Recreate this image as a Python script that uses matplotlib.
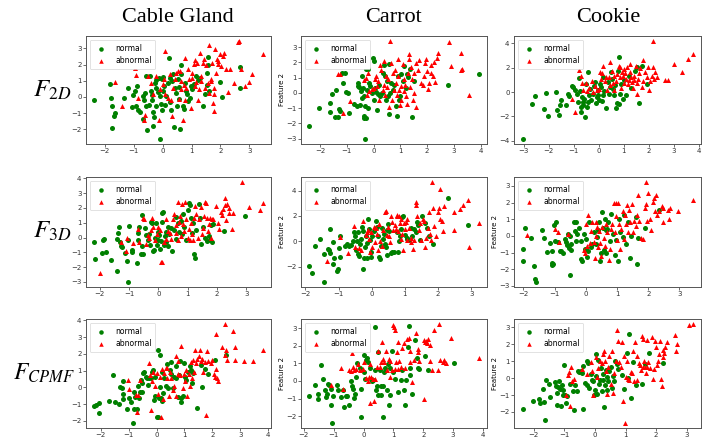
import matplotlib
matplotlib.use("Agg")
import matplotlib.pyplot as plt
from matplotlib.ticker import MultipleLocator
import numpy as np

columns = ["Cable Gland", "Carrot", "Cookie"]
row_labels = [r"$F_{2D}$", r"$F_{3D}$", r"$F_{CPMF}$"]
class_labels = ["normal", "abnormal"]

# ---------------- Cable Gland, F2D ----------------
cable_f2d_normal = [(-2.36,-0.17),(-1.81,0.81),(-1.80,-0.10),(-1.74,-0.54),(-1.67,-1.16),(-1.65,-1.0),(-1.74,-1.95),
 (-1.35,-0.06),(-1.20,0.52),(-1.06,-0.62),(-1.01,0.1),(-0.95,0.39),(-0.87,0.7),(-0.92,-0.54),(-0.86,-0.79),(-0.79,-0.95),
 (-0.68,0.04),(-0.64,-0.21),(-0.61,0.27),(-0.58,1.31),(-0.57,-0.58),(-0.55,-2.07),(-0.69,-1.37),(-0.34,-1.82),(-0.47,-0.52),
 (-0.45,1.27),(-0.40,0.39),(-0.38,0.12),(-0.36,-0.17),(-0.34,-0.91),(-0.29,-1.24),(-0.26,0.87),(-0.24,1.04),(-0.22,0.56),
 (-0.23,-0.58),(-0.17,0.29),(-0.13,1.18),(-0.10,-2.61),(-0.08,0.04),(-0.06,-0.41),(-0.03,-0.79),(-0.01,1.08),(0.01,1.24),
 (0.03,0.35),(0.06,0.66),(0.08,-0.48),(0.13,0.08),(0.17,0.83),(0.23,2.39),(0.24,1.18),(0.26,-0.29),(0.29,-0.79),(0.33,0.98),
 (0.37,1.43),(0.40,-1.87),(0.42,0.56),(0.45,0.21),(0.49,-0.54),(0.54,1.08),(0.56,0.62),(0.58,-0.12),(0.61,-1.99),(0.62,1.99),
 (0.65,1.43),(0.71,-0.58),(0.74,-0.75),(0.77,0.87),(0.80,0.35),(0.84,0.15),(0.88,-0.23),(0.94,-0.06),(0.97,0.66),(1.02,0.5),
 (1.07,0.77),(1.16,1.29),(1.23,1.04),(1.28,1.18),(1.40,-0.58),(1.48,0.15),(1.52,0.71),(1.54,1.49),(1.57,2.49),(1.59,0.35),
 (1.57,1.95),(1.97,0.93),(2.05,-0.02),(2.68,1.87),(2.68,0.52)]
cable_f2d_abnormal = [(-1.64,0.93),(-1.39,-0.54),(-0.97,1.76),(-0.93,1.35),(-0.86,-0.10),(-0.66,-1.45),(-0.61,-1.1),(-0.49,1.29),
 (-0.40,0.83),(-0.32,0.15),(-0.24,1.29),(-0.11,-1.41),(-0.08,0.46),(0.0,0.77),(0.06,1.08),(0.10,2.86),(0.10,0.15),(0.17,-0.06),
 (0.25,1.39),(0.29,-0.21),(0.31,-1.16),(0.37,0.56),(0.42,1.08),(0.48,1.49),(0.54,1.6),(0.56,-0.12),(0.60,1.6),(0.63,0.46),
 (0.65,0.98),(0.69,-1.41),(0.74,0.71),(0.77,2.43),(0.79,-0.17),(0.82,0.56),(0.88,1.7),(0.91,1.08),(0.97,-0.68),(1.0,1.49),
 (1.03,1.18),(1.09,2.01),(1.11,0.66),(1.13,2.28),(1.14,0.91),(1.20,2.12),(1.23,-0.17),(1.25,0.46),(1.28,2.70),(1.32,0.98),
 (1.34,1.29),(1.40,2.12),(1.43,2.32),(1.45,0.56),(1.51,1.95),(1.57,0.87),(1.62,3.22),(1.66,1.12),(1.68,0.98),(1.70,2.12),
 (1.73,-0.37),(1.77,-0.89),(1.79,0.56),(1.81,2.99),(1.85,1.49),(1.89,2.37),(1.91,2.01),(1.93,2.2),(2.0,2.63),(2.03,1.91),
 (2.08,2.53),(2.12,2.70),(2.20,1.74),(2.28,0.31),(2.34,1.74),(2.46,0.87),(2.62,3.42),(2.64,3.46),(2.71,1.74),(2.85,0.66),
 (3.0,0.93),(3.09,1.43),(3.46,2.63),(1.77,0.15),(1.62,0.25)]

# ---------------- Carrot, F2D ----------------
carrot_f2d_normal = [(-2.40,-2.15),(-2.05,-0.99),(-1.62,-0.66),(-1.62,-1.27),(-1.57,-0.07),(-1.44,-1.58),(-1.41,0.22),(-1.32,-1.58),
 (-1.28,-1.05),(-1.24,-1.21),(-1.16,0.62),(-1.19,1.32),(-1.07,1.32),(-1.03,0.04),(-0.97,0.0),(-0.91,-1.32),(-0.75,-0.70),
 (-0.66,1.80),(-0.62,-0.88),(-0.60,0.44),(-0.57,0.66),(-0.53,0.40),(-0.51,-0.77),(-0.47,0.11),(-0.45,1.1),(-0.42,-0.33),
 (-0.40,0.33),(-0.37,-1.54),(-0.37,-0.18),(-0.35,-1.65),(-0.32,-3.03),(-0.31,-0.84),(-0.29,1.58),(-0.27,-1.65),(-0.25,0.22),
 (-0.22,-0.99),(-0.20,1.58),(-0.16,0.66),(-0.12,0.44),(-0.07,0.0),(-0.04,2.31),(0.0,-0.48),(0.02,2.09),(0.05,0.33),(0.09,0.04),
 (0.12,-1.10),(0.17,-0.04),(0.21,0.55),(0.25,-0.22),(0.30,0.0),(0.34,1.32),(0.37,1.80),(0.42,1.1),(0.45,-0.44),(0.50,0.77),
 (0.52,-0.22),(0.56,-1.36),(0.58,1.87),(0.62,0.0),(0.65,0.62),(0.71,0.22),(0.77,0.55),(0.83,-0.88),(0.87,-1.49),(0.92,1.1),
 (0.96,-0.48),(1.0,-0.18),(1.04,1.21),(1.09,0.77),(1.14,1.76),(1.19,0.33),(1.24,1.21),(1.29,1.05),(1.37,1.58),(1.42,-1.58),
 (1.49,0.77),(2.76,0.55),(3.92,1.25)]
carrot_f2d_abnormal = [(-1.32,1.25),(-1.24,1.21),(-1.16,-1.32),(-0.87,-0.55),(-0.35,0.84),(-0.29,0.99),(-0.25,-0.11),(-0.20,1.32),
 (-0.16,0.11),(-0.07,0.26),(0.0,0.33),(0.05,0.88),(0.09,1.10),(0.12,0.48),(0.17,0.77),(0.21,-0.44),(0.25,1.80),(0.27,1.49),
 (0.34,0.22),(0.37,2.09),(0.40,0.55),(0.42,-0.11),(0.46,1.10),(0.50,0.40),(0.55,0.88),(0.58,-0.92),(0.62,3.41),(0.65,1.98),
 (0.67,-0.44),(0.71,1.32),(0.75,0.22),(0.80,1.49),(0.83,0.66),(0.87,-0.11),(0.90,1.14),(0.92,2.24),(0.96,0.22),(1.0,-0.77),
 (1.02,0.48),(1.04,-0.48),(1.08,1.91),(1.12,0.88),(1.14,0.11),(1.17,0.55),(1.21,-0.22),(1.24,-0.70),(1.27,1.32),(1.33,2.53),
 (1.33,2.20),(1.37,0.40),(1.39,1.71),(1.42,0.88),(1.46,-0.44),(1.52,1.32),(1.57,-0.92),(1.59,1.98),(1.64,1.49),(1.70,2.13),
 (1.77,0.66),(1.83,0.55),(1.87,1.10),(1.92,1.98),(1.97,2.24),(2.01,1.43),(2.04,0.26),(2.07,0.66),(2.14,1.80),(2.16,1.32),
 (2.20,1.10),(2.24,2.02),(2.29,0.70),(2.36,2.31),(2.41,2.60),(2.82,3.34),(2.89,1.76),(3.27,2.64),(3.30,1.58),(3.28,1.49),
 (3.57,-0.11),(1.52,0.0)]

# ---------------- Cookie, F2D ----------------
cookie_f2d_normal = [(-3.04,-3.85),(-2.68,-0.94),(-2.54,-0.32),(-2.17,-1.35),(-2.12,-0.08),(-2.04,-1.97),(-1.72,0.03),(-1.65,-1.43),
 (-1.60,-1.89),(-1.54,-1.08),(-1.50,-0.67),(-1.31,-1.08),(-1.24,-0.13),(-1.19,-0.30),(-1.08,0.46),(-1.01,0.40),(-0.95,0.13),
 (-0.85,-0.13),(-0.81,-0.81),(-0.77,1.16),(-0.75,0.08),(-0.72,-1.21),(-0.71,-1.62),(-0.68,-0.40),(-0.64,-1.08),(-0.61,-0.81),
 (-0.59,-0.54),(-0.55,-2.08),(-0.51,0.67),(-0.45,-1.21),(-0.41,1.62),(-0.41,-0.81),(-0.37,-0.27),(-0.35,0.27),(-0.32,-0.67),
 (-0.24,-0.13),(-0.19,0.46),(-0.15,0.81),(-0.11,-0.89),(-0.08,-0.40),(-0.04,0.13),(-0.01,-0.27),(0.03,-0.62),(0.05,0.67),
 (0.09,0.40),(0.12,-0.75),(0.16,1.21),(0.19,-0.27),(0.21,0.08),(0.29,-1.27),(0.35,0.81),(0.39,-0.19),(0.45,0.40),(0.48,1.62),
 (0.52,1.08),(0.56,0.27),(0.59,-0.27),(0.65,0.54),(0.69,-1.29),(0.72,-0.89),(0.75,1.75),(0.79,-1.0),(0.80,2.88),(0.85,-0.13),
 (0.88,0.67),(0.96,-0.54),(1.01,1.0),(1.09,-0.27),(1.19,1.35),(1.28,0.35),(1.45,1.70),(1.54,2.02),(1.62,-0.89),(1.72,2.16),
 (1.94,0.62)]
cookie_f2d_abnormal = [(-1.08,-0.57),(-0.95,-1.62),(-0.80,1.83),(-0.69,1.35),(-0.66,0.73),(-0.61,0.13),(-0.52,0.73),(-0.45,0.08),
 (-0.37,0.35),(-0.28,0.94),(-0.21,0.0),(-0.15,0.46),(-0.08,0.13),(0.0,0.27),(0.05,1.62),(0.08,1.08),(0.13,1.54),(0.19,2.16),
 (0.25,0.94),(0.29,1.21),(0.32,0.19),(0.39,1.21),(0.43,0.54),(0.45,2.43),(0.52,1.70),(0.56,0.73),(0.59,0.13),(0.61,1.35),
 (0.67,0.94),(0.72,1.48),(0.79,2.16),(0.83,1.21),(0.85,2.08),(0.88,0.35),(0.92,1.62),(0.96,1.35),(0.99,1.89),(1.01,0.73),
 (1.05,1.54),(1.09,1.08),(1.12,2.02),(1.15,0.67),(1.19,1.0),(1.23,1.62),(1.25,2.29),(1.28,1.21),(1.32,0.81),(1.36,0.35),
 (1.39,1.35),(1.42,1.0),(1.49,2.16),(1.52,0.73),(1.54,-0.13),(1.58,1.08),(1.62,1.54),(1.65,1.97),(1.72,0.40),(1.76,2.61),
 (1.78,0.94),(1.85,1.62),(1.92,1.21),(1.98,2.02),(2.02,0.19),(2.05,0.94),(2.12,1.35),(2.16,4.18),(2.18,2.08),(2.21,1.08),
 (2.26,1.62),(2.32,1.21),(2.65,1.0),(2.78,1.0),(3.01,2.29),(3.33,1.62),(3.58,2.69),(3.74,3.10)]

# ---------------- Cable Gland, F3D ----------------
cable_f3d_normal = [(-2.18,-0.27),(-2.15,-1.42),(-1.87,-0.14),(-1.84,-0.07),(-1.92,-1.05),(-1.78,-1.0),(-1.61,-1.51),(-1.41,-0.09),
 (-1.41,-2.24),(-1.36,0.32),(-1.33,0.73),(-1.30,-0.32),(-1.27,-0.55),(-1.24,-0.64),(-1.13,-1.05),(-1.07,-1.56),(-1.05,-3.0),
 (-1.02,-0.18),(-1.0,0.78),(-0.90,-0.82),(-0.88,-0.96),(-0.74,-1.69),(-0.70,0.32),(-0.68,-0.14),(-0.66,0.73),(-0.59,-1.10),
 (-0.57,-0.55),(-0.54,1.51),(-0.51,-1.14),(-0.45,0.66),(-0.43,0.18),(-0.36,-0.14),(-0.32,0.27),(-0.28,-0.48),(-0.25,1.05),
 (-0.20,1.0),(-0.17,-0.94),(-0.14,-0.82),(-0.11,-0.02),(-0.09,1.0),(-0.06,-0.48),(-0.02,0.37),(0.0,-0.18),(0.03,0.18),
 (0.06,-0.78),(0.09,-0.25),(0.11,1.69),(0.14,1.05),(0.17,1.74),(0.20,-0.48),(0.23,0.09),(0.25,0.37),(0.28,-0.32),(0.32,0.73),
 (0.34,-0.55),(0.36,0.21),(0.43,0.66),(0.48,-0.94),(0.54,0.50),(0.59,1.42),(0.62,-0.09),(0.66,0.96),(0.70,0.37),(0.77,1.12),
 (0.81,0.21),(0.85,1.58),(0.88,0.73),(0.96,-0.14),(1.0,1.88),(1.04,2.31),(1.07,2.20),(1.11,1.35),(1.15,0.32),(1.19,1.0),
 (1.22,-1.10),(1.24,-1.40),(1.30,0.50),(1.38,2.27),(1.41,1.35),(1.45,-0.41),(1.53,0.73),(1.61,-0.02),(1.67,-0.25),(1.72,0.09),
 (1.75,-0.14),(1.81,0.82),(1.83,-0.32),(1.87,0.89),(2.24,0.43),(2.96,1.46)]
cable_f3d_abnormal = [(-1.98,-2.38),(-1.27,-0.32),(-1.11,-0.94),(-1.07,-0.02),(-0.85,-0.37),(-0.68,0.55),(-0.66,-0.32),(-0.51,1.35),
 (-0.48,1.24),(-0.43,-0.41),(-0.36,0.18),(-0.32,-0.02),(-0.25,0.50),(-0.20,1.35),(-0.17,0.73),(-0.11,-0.14),(-0.06,0.27),
 (0.0,0.73),(0.06,0.50),(0.09,-1.62),(0.14,-1.62),(0.18,-0.32),(0.25,-0.09),(0.28,1.28),(0.34,0.43),(0.40,0.32),(0.45,-0.09),
 (0.51,1.28),(0.54,1.58),(0.59,0.32),(0.62,0.82),(0.66,2.43),(0.68,-0.18),(0.70,1.05),(0.74,1.46),(0.77,0.09),(0.81,2.27),
 (0.85,0.89),(0.88,0.43),(0.90,2.43),(0.96,1.24),(1.0,-0.02),(1.04,0.59),(1.07,-0.14),(1.11,1.0),(1.15,0.27),(1.19,-0.14),
 (1.22,1.35),(1.27,2.11),(1.30,1.58),(1.36,-0.02),(1.40,1.28),(1.45,2.04),(1.49,0.21),(1.53,0.66),(1.56,1.46),(1.61,2.43),
 (1.64,2.31),(1.67,1.35),(1.70,0.43),(1.72,0.89),(1.75,1.35),(1.79,-0.02),(1.83,1.24),(1.87,1.28),(1.98,2.11),(2.04,0.96),
 (2.06,0.55),(2.13,1.74),(2.17,1.51),(2.21,1.92),(2.26,2.65),(2.28,2.20),(2.32,1.19),(2.35,2.27),(2.40,1.97),(2.43,1.65),
 (2.51,0.55),(2.55,1.65),(2.85,3.75),(3.08,2.04),(3.48,1.88),(3.56,2.33)]

# ---------------- Carrot, F3D ----------------
carrot_f3d_normal = [(-1.88,-1.92),(-1.81,-2.53),(-1.71,-0.40),(-1.55,0.21),(-1.45,-3.2),(-1.43,-0.99),(-1.33,-0.61),(-1.28,-0.72),
 (-1.26,1.01),(-1.25,-0.88),(-1.18,-0.08),(-1.18,-1.79),(-1.13,-1.33),(-1.05,-2.32),(-1.01,-2.21),(-0.98,-0.53),(-0.95,0.4),
 (-0.95,-1.25),(-0.81,-0.35),(-0.75,-0.19),(-0.68,-0.40),(-0.63,-0.27),(-0.58,0.0),(-0.55,0.72),(-0.51,0.40),(-0.48,-0.67),
 (-0.45,0.0),(-0.43,0.72),(-0.41,-0.99),(-0.38,-1.15),(-0.35,-0.19),(-0.33,0.19),(-0.31,1.15),(-0.28,0.85),(-0.26,-2.21),
 (-0.23,-1.33),(-0.21,-0.45),(-0.18,0.45),(-0.15,-1.33),(-0.13,-0.13),(-0.11,1.79),(-0.08,0.99),(-0.05,0.08),(-0.03,-0.80),
 (-0.01,-1.25),(0.02,0.40),(0.07,0.80),(0.12,1.60),(0.17,1.15),(0.19,0.45),(0.22,-1.25),(0.25,-1.41),(0.29,-0.35),(0.32,1.07),
 (0.35,0.19),(0.37,0.61),(0.39,-0.19),(0.42,-0.45),(0.45,-1.07),(0.47,0.93),(0.49,1.33),(0.52,0.80),(0.57,-0.88),(0.62,-0.80),
 (0.67,-0.80),(0.75,0.72),(0.79,-0.80),(0.82,0.0),(0.85,0.45),(0.89,0.99),(0.92,1.95),(0.95,2.0),(0.99,0.53),(1.05,0.27),
 (1.07,0.19),(1.12,0.13),(1.17,1.07),(1.22,0.40),(1.27,0.99),(1.32,0.72),(1.35,1.52),(1.39,1.25),(1.45,0.08),(1.52,2.0),
 (1.59,1.41),(1.67,1.07),(1.72,0.45),(1.85,-0.19),(2.29,3.39),(2.89,1.25)]
carrot_f3d_abnormal = [(-1.36,-1.52),(-0.95,0.35),(-0.71,-0.88),(-0.53,1.20),(-0.51,-0.45),(-0.38,-0.53),(-0.33,-0.72),(-0.25,1.60),
 (-0.18,0.53),(-0.15,0.72),(-0.11,0.93),(-0.08,0.19),(-0.05,-0.80),(-0.01,0.72),(0.02,-0.45),(0.07,1.15),(0.10,-0.08),
 (0.12,1.07),(0.17,0.61),(0.20,-0.72),(0.22,1.33),(0.25,0.0),(0.30,-0.35),(0.35,0.93),(0.39,2.27),(0.42,2.40),(0.45,0.53),
 (0.49,1.15),(0.52,0.40),(0.55,-0.08),(0.59,2.0),(0.62,1.52),(0.65,0.93),(0.69,1.25),(0.72,0.99),(0.75,2.0),(0.77,2.05),
 (0.79,0.80),(0.82,2.0),(0.85,1.41),(0.87,0.19),(0.89,1.79),(0.92,0.61),(0.95,-0.67),(0.97,1.41),(0.99,0.99),(1.02,1.52),
 (1.05,0.13),(1.07,1.73),(1.12,1.07),(1.17,-0.08),(1.19,0.27),(1.25,-0.61),(1.27,0.13),(1.32,3.07),(1.34,2.85),(1.37,2.0),
 (1.42,0.88),(1.45,1.41),(1.49,0.13),(1.55,1.79),(1.57,1.60),(1.60,-0.45),(1.65,0.27),(1.69,1.07),(1.72,2.27),(1.75,0.61),
 (1.79,0.13),(1.82,4.67),(1.85,2.59),(1.89,1.20),(1.95,0.40),(1.99,2.27),(2.02,2.59),(2.05,4.08),(2.07,1.73),(2.12,1.60),
 (2.15,0.80),(2.19,2.80),(2.47,2.32),(2.47,0.88),(2.65,2.53),(2.75,2.85),(2.89,3.28),(2.92,-0.45),(3.22,1.41)]

# ---------------- Cookie, F3D ----------------
cookie_f3d_normal = [(-2.03,-0.76),(-2.01,-1.50),(-1.96,0.47),(-1.77,-0.10),(-1.66,-1.81),(-1.63,-2.57),(-1.60,-2.77),(-1.42,0.35),
 (-1.35,-0.14),(-1.26,-0.94),(-1.15,-0.45),(-1.10,-1.75),(-1.07,-0.92),(-1.07,-1.64),(-1.05,-1.68),(-1.03,0.66),(-1.0,-0.31),
 (-0.96,0.82),(-0.89,-0.37),(-0.83,-0.92),(-0.78,-0.92),(-0.73,-1.03),(-0.67,-0.21),(-0.64,-0.37),(-0.60,-0.57),(-0.57,0.10),
 (-0.53,-0.72),(-0.51,0.0),(-0.51,-2.36),(-0.49,-0.51),(-0.46,-0.86),(-0.38,0.82),(-0.35,0.31),(-0.32,-0.31),(-0.30,0.86),
 (-0.28,0.10),(-0.21,0.45),(-0.17,-1.40),(-0.14,-0.31),(-0.11,-1.48),(-0.06,0.10),(-0.03,-0.78),(0.0,-0.21),(0.04,-1.27),
 (0.07,-0.92),(0.11,0.86),(0.15,-0.66),(0.21,-0.51),(0.26,0.21),(0.32,-0.51),(0.36,-0.04),(0.40,0.37),(0.43,0.86),(0.45,-1.48),
 (0.50,-1.03),(0.53,1.44),(0.56,0.45),(0.58,-0.82),(0.61,1.04),(0.64,-1.03),(0.66,0.37),(0.68,0.41),(0.72,0.82),(0.77,-0.31),
 (0.82,1.33),(0.88,0.10),(0.93,-1.13),(0.98,-0.25),(1.04,-1.48),(1.07,1.03),(1.11,0.25),(1.18,-0.04),(1.22,1.23),(1.28,-0.51),
 (1.36,0.86),(1.43,-1.33),(1.46,0.0),(1.60,1.13),(1.65,-1.68),(1.68,-0.10),(1.89,0.45),(2.35,1.54)]
cookie_f3d_abnormal = [(-1.90,0.04),(-1.0,0.41),(-0.89,0.25),(-0.85,-0.37),(-0.57,0.14),(-0.06,-0.82),(-0.03,-1.03),(0.0,0.72),
 (0.04,-0.62),(0.07,1.23),(0.13,-0.41),(0.18,0.31),(0.21,0.86),(0.26,-0.37),(0.29,-1.33),(0.32,0.86),(0.34,0.0),(0.36,0.51),
 (0.40,-0.66),(0.43,0.31),(0.47,-0.41),(0.50,-1.19),(0.53,0.51),(0.58,-0.10),(0.61,-0.62),(0.66,0.72),(0.68,0.21),(0.75,-1.44),
 (0.77,-0.78),(0.82,0.41),(0.85,0.72),(0.90,1.99),(0.93,0.21),(0.96,1.99),(0.98,1.17),(1.0,-0.25),(1.04,1.95),(1.07,0.72),
 (1.09,-0.78),(1.14,0.41),(1.18,1.48),(1.22,-0.16),(1.25,1.23),(1.28,0.72),(1.32,1.85),(1.36,0.25),(1.39,1.54),(1.43,0.82),
 (1.47,1.89),(1.50,0.25),(1.54,0.92),(1.60,0.62),(1.65,1.27),(1.68,2.46),(1.71,0.92),(1.78,-0.10),(1.84,-0.21),(1.89,1.68),
 (1.92,1.89),(1.94,3.24),(1.97,0.92),(2.0,2.59),(2.05,1.03),(2.10,0.35),(2.14,2.05),(2.18,2.30),(2.21,1.48),(2.24,2.46),
 (2.29,1.23),(2.35,1.48),(2.43,1.81),(2.46,0.86),(2.48,1.68),(2.64,1.54),(2.67,1.03),(2.69,1.68),(2.96,1.48),(3.42,2.16)]

# ---------------- Cable Gland, F_CPMF ----------------
cable_cpmf_normal = [(-2.23,-1.12),(-2.17,-1.06),(-2.08,-0.92),(-2.05,-1.51),(-1.72,-0.82),(-1.58,0.74),(-1.48,-0.90),(-1.34,-1.02),
 (-1.31,0.04),(-1.25,-0.02),(-1.22,0.38),(-1.19,-0.70),(-1.22,-0.42),(-1.07,-1.27),(-0.99,-0.62),(-0.91,-0.90),(-0.83,-2.13),
 (-0.80,-1.27),(-0.80,-0.26),(-0.77,-0.56),(-0.71,-1.27),(-0.68,0.10),(-0.63,-0.62),(-0.59,-0.26),(-0.56,0.44),(-0.53,-0.30),
 (-0.51,0.24),(-0.48,0.84),(-0.44,0.94),(-0.39,0.64),(-0.36,0.54),(-0.32,0.14),(-0.27,0.58),(-0.20,0.54),(-0.15,0.94),
 (-0.12,1.04),(-0.08,-0.76),(-0.06,-0.50),(-0.04,0.64),(0.0,-1.77),(0.04,2.25),(0.06,-1.77),(0.08,-0.62),(0.12,1.91),(0.13,0.04),
 (0.15,-0.62),(0.18,0.94),(0.20,-0.82),(0.24,-0.36),(0.27,0.54),(0.32,0.10),(0.36,1.39),(0.42,-0.06),(0.48,1.04),(0.51,1.51),
 (0.53,0.78),(0.59,-0.02),(0.63,0.64),(0.68,1.25),(0.71,0.54),(0.77,-0.56),(0.80,0.74),(0.83,1.59),(0.87,-0.86),(0.89,-0.66),
 (0.95,-0.50),(0.99,1.45),(1.03,0.64),(1.07,0.44),(1.13,0.94),(1.19,1.25),(1.25,1.04),(1.27,0.24),(1.31,0.84),(1.46,-1.22),
 (1.58,1.35),(1.63,0.04),(1.75,1.10),(1.86,0.78),(2.10,1.65),(2.49,1.95)]
cable_cpmf_abnormal = [(-1.01,0.44),(-0.99,-0.10),(-0.75,-0.46),(-0.68,-0.46),(-0.71,-1.47),(-0.59,0.44),(-0.48,2.65),(-0.27,1.45),
 (-0.24,0.74),(-0.20,-1.37),(-0.15,0.38),(-0.12,0.94),(-0.06,0.10),(0.0,0.84),(0.06,-0.42),(0.12,0.64),(0.15,-1.77),(0.18,1.10),
 (0.24,-0.70),(0.27,0.84),(0.32,1.18),(0.36,1.14),(0.39,0.54),(0.44,-0.50),(0.48,0.90),(0.53,0.58),(0.59,-0.16),(0.63,0.10),
 (0.68,1.85),(0.71,-0.50),(0.75,0.78),(0.77,1.55),(0.83,0.74),(0.89,2.45),(0.95,-0.06),(0.99,0.78),(1.03,0.38),(1.07,1.04),
 (1.10,-0.50),(1.15,0.78),(1.19,0.10),(1.25,1.51),(1.27,0.54),(1.31,1.65),(1.34,0.94),(1.39,2.25),(1.43,1.45),(1.46,1.71),
 (1.51,1.85),(1.54,2.25),(1.58,1.59),(1.63,1.71),(1.66,0.94),(1.72,1.51),(1.76,-1.67),(1.82,2.19),(1.86,1.59),(1.94,1.45),
 (1.98,1.65),(2.05,0.78),(2.08,0.64),(2.14,1.10),(2.14,3.19),(2.16,0.54),(2.20,0.38),(2.35,2.39),(2.44,1.91),(2.44,3.79),
 (2.49,2.25),(2.52,1.65),(2.73,3.39),(2.82,2.39),(2.82,1.65),(3.15,1.59),(3.44,1.55),(3.80,2.25)]

# ---------------- Carrot, F_CPMF ----------------
carrot_cpmf_normal = [(-1.81,-0.86),(-1.61,-0.21),(-1.53,-0.73),(-1.51,-1.01),(-1.42,0.90),(-1.36,0.10),(-1.30,-0.50),(-1.27,-0.92),
 (-1.22,-0.73),(-1.19,-0.15),(-1.14,-0.21),(-1.10,-1.35),(-1.08,-0.48),(-1.06,-2.39),(-1.03,-0.86),(-0.88,-0.21),(-0.84,-0.53),
 (-0.77,-0.92),(-0.69,-0.53),(-0.64,-1.49),(-0.58,-0.86),(-0.55,-0.86),(-0.49,-1.35),(-0.41,-0.02),(-0.39,-0.29),(-0.36,-0.44),
 (-0.32,-0.97),(-0.28,-0.73),(-0.25,0.23),(-0.21,0.99),(-0.17,1.89),(-0.13,0.74),(-0.10,-2.06),(-0.08,-0.44),(0.01,0.48),
 (0.03,1.47),(0.06,0.13),(0.09,1.18),(0.12,1.32),(0.14,1.05),(0.20,0.71),(0.26,0.10),(0.28,-0.02),(0.31,0.04),(0.37,0.61),
 (0.40,3.03),(0.42,-0.53),(0.46,-0.29),(0.48,-0.78),(0.50,1.62),(0.54,0.61),(0.57,-0.78),(0.59,-0.29),(0.65,-2.06),(0.65,-0.29),
 (0.70,0.52),(0.72,0.74),(0.79,-0.53),(0.81,0.94),(0.84,-1.39),(0.87,-0.82),(0.90,0.71),(0.95,1.70),(0.98,0.52),(1.06,0.13),
 (1.15,-0.63),(1.24,0.04),(1.28,0.61),(1.35,-0.53),(1.39,-1.39),(1.43,0.04),(1.48,1.95),(1.53,3.09),(1.55,0.36),(1.57,0.71),
 (1.62,-0.73),(1.71,2.33),(1.79,1.32),(1.84,0.71),(1.87,0.67),(2.06,1.43),(2.15,0.61),(3.02,0.99)]
carrot_cpmf_abnormal = [(-1.10,-0.21),(-0.75,0.71),(-0.69,-0.48),(-0.47,0.61),(-0.41,0.55),(-0.39,1.56),(-0.36,0.80),(-0.32,0.61),
 (-0.25,0.67),(-0.17,0.94),(-0.13,0.61),(-0.10,2.27),(-0.08,3.03),(-0.02,0.67),(0.01,1.09),(0.09,0.17),(0.14,-0.02),(0.17,0.23),
 (0.20,-1.24),(0.23,0.94),(0.26,0.23),(0.31,0.13),(0.35,-1.16),(0.39,0.10),(0.46,0.80),(0.48,1.70),(0.54,0.80),(0.57,1.05),
 (0.61,2.23),(0.65,1.24),(0.70,1.05),(0.76,1.70),(0.79,0.61),(0.84,1.24),(0.87,1.13),(0.90,0.23),(0.95,0.61),(0.98,3.15),
 (1.01,3.03),(1.04,0.67),(1.06,2.90),(1.09,1.09),(1.13,1.62),(1.15,0.67),(1.17,2.23),(1.20,1.13),(1.24,0.80),(1.28,1.89),
 (1.35,2.14),(1.39,0.71),(1.46,2.39),(1.51,2.46),(1.54,1.70),(1.57,1.09),(1.62,-0.06),(1.69,1.18),(1.76,2.71),(1.82,1.81),
 (1.84,1.66),(1.87,1.13),(2.02,2.33),(2.04,-1.05),(2.06,2.19),(2.10,2.27),(2.13,2.14),(2.15,2.39),(2.21,2.04),(2.24,1.13),
 (2.28,0.61),(2.37,2.90),(2.49,0.61),(2.54,3.23),(2.57,1.18),(2.65,1.05),(2.71,1.18),(2.76,0.99),(2.93,2.42),(3.85,1.28)]

# ---------------- Cookie, F_CPMF ----------------
cookie_cpmf_normal = [(-2.37,-1.80),(-2.02,-1.37),(-1.83,-1.22),(-1.80,-1.47),(-1.69,-0.63),(-1.67,-1.41),(-1.64,-2.45),(-1.60,-0.10),
 (-1.50,-0.35),(-1.47,-1.14),(-1.31,-0.24),(-1.27,-0.49),(-1.25,-1.61),(-1.23,-0.88),(-1.20,-0.55),(-1.17,-0.16),(-1.15,-0.63),
 (-1.12,-1.67),(-1.09,-0.43),(-1.06,-1.02),(-1.04,-0.69),(-1.02,1.92),(-1.02,0.78),(-0.98,-0.98),(-0.95,-1.47),(-0.93,-1.08),
 (-0.82,-0.35),(-0.73,-0.75),(-0.69,-1.86),(-0.66,-0.43),(-0.58,-0.75),(-0.55,0.43),(-0.51,0.35),(-0.47,0.39),(-0.44,0.29),
 (-0.40,0.69),(-0.38,-1.80),(-0.33,-0.29),(-0.27,1.02),(-0.25,-0.43),(-0.22,0.88),(-0.19,-0.59),(-0.14,0.24),(-0.11,-0.10),
 (-0.08,-0.16),(-0.03,-1.02),(0.0,-0.69),(0.03,1.41),(0.05,0.10),(0.08,-0.94),(0.11,1.08),(0.14,-0.35),(0.16,-0.10),(0.20,0.59),
 (0.22,-0.75),(0.25,0.24),(0.27,-0.10),(0.29,-1.73),(0.33,-0.39),(0.36,0.49),(0.38,0.04),(0.40,-0.69),(0.44,-0.20),(0.47,0.39),
 (0.51,0.63),(0.55,-0.59),(0.60,0.10),(0.62,-0.20),(0.66,0.98),(0.71,0.82),(0.76,0.55),(0.87,0.20),(0.95,-0.63),(1.04,1.47),
 (1.09,0.0),(1.12,2.59),(1.18,-1.18),(1.26,0.94),(1.34,-0.43),(1.53,-0.35),(1.64,0.82),(1.78,1.47),(2.24,0.88)]
cookie_cpmf_abnormal = [(-0.95,-1.02),(-0.87,0.20),(-0.84,0.35),(-0.82,-1.67),(-0.80,0.63),(-0.76,-0.16),(-0.69,-0.04),(-0.44,0.55),
 (-0.25,0.24),(-0.14,0.94),(-0.11,0.39),(-0.05,-0.98),(0.05,1.22),(0.08,0.04),(0.11,0.59),(0.16,0.98),(0.22,0.88),(0.25,1.41),
 (0.29,1.61),(0.33,1.02),(0.36,0.39),(0.38,-0.94),(0.44,0.63),(0.47,1.27),(0.51,-0.35),(0.55,1.61),(0.58,-0.88),(0.62,0.29),
 (0.69,0.98),(0.73,2.84),(0.76,2.16),(0.80,0.94),(0.84,0.63),(0.87,2.12),(0.91,-1.37),(0.95,1.27),(0.98,-2.65),(1.02,0.04),
 (1.06,1.02),(1.09,-0.04),(1.12,-0.10),(1.17,0.35),(1.20,0.29),(1.26,1.61),(1.29,-0.16),(1.32,2.12),(1.36,1.27),(1.39,-0.10),
 (1.45,0.88),(1.47,0.78),(1.50,0.49),(1.53,2.45),(1.56,2.31),(1.58,0.63),(1.61,1.02),(1.64,0.63),(1.67,0.29),(1.69,2.25),
 (1.71,0.63),(1.75,0.94),(1.80,0.59),(1.86,2.39),(1.89,-0.04),(1.93,0.55),(1.97,2.16),(2.00,1.80),(2.02,0.75),(2.07,1.02),
 (2.11,1.41),(2.13,2.16),(2.15,-0.04),(2.18,-0.49),(2.21,1.67),(2.24,1.22),(2.26,1.47),(2.29,1.80),(2.37,2.12),(2.62,2.51),
 (2.65,1.61),(2.67,2.0),(3.06,3.10),(3.19,3.18)]

panels = [
    [(cable_f2d_normal, cable_f2d_abnormal), (carrot_f2d_normal, carrot_f2d_abnormal), (cookie_f2d_normal, cookie_f2d_abnormal)],
    [(cable_f3d_normal, cable_f3d_abnormal), (carrot_f3d_normal, carrot_f3d_abnormal), (cookie_f3d_normal, cookie_f3d_abnormal)],
    [(cable_cpmf_normal, cable_cpmf_abnormal), (carrot_cpmf_normal, carrot_cpmf_abnormal), (cookie_cpmf_normal, cookie_cpmf_abnormal)],
]
y_tick_step = [[1, 1, 2], [1, 2, 1], [1, 1, 1]]
show_ylabel = [[False, True, False], [False, True, True], [False, True, True]]

W, H = 710, 438
fig = plt.figure(figsize=(W / 100, H / 100), dpi=100)
fig.patch.set_facecolor("white")

rows_px = [(36, 144), (177, 287), (319, 428)]
cols_px = [(86, 271), (301, 487), (514, 701)]

for r in range(3):
    for c in range(3):
        l, rr = cols_px[c]
        t, b = rows_px[r]
        ax = fig.add_axes([l / W, 1 - b / H, (rr - l) / W, (b - t) / H])
        normal, abnormal = panels[r][c]
        nx, ny = zip(*normal)
        axx, ayy = zip(*abnormal)
        ax.scatter(nx, ny, c="green", marker="o", s=13, linewidths=0, label=class_labels[0])
        ax.scatter(axx, ayy, c="red", marker="^", s=13, linewidths=0, label=class_labels[1])
        ax.xaxis.set_major_locator(MultipleLocator(1))
        ax.yaxis.set_major_locator(MultipleLocator(y_tick_step[r][c]))
        ax.tick_params(labelsize=5, length=2, width=0.5, pad=1.2, colors="#333333")
        for sp in ax.spines.values():
            sp.set_linewidth(0.7)
            sp.set_color("#555555")
        leg = ax.legend(loc="upper left", fontsize=5.5, markerscale=0.9, handletextpad=0.8,
                        borderpad=0.5, labelspacing=0.5, framealpha=1.0, fancybox=True)
        leg.get_frame().set_linewidth(0.4)
        if show_ylabel[r][c]:
            ax.set_ylabel("Feature 2", fontsize=5, labelpad=1)

col_centers = [178, 394, 608]
for name, cx in zip(columns, col_centers):
    fig.text(cx / W, 1 - 18 / H, name, ha="center", va="center",
             fontsize=16, family="Liberation Serif")

plt.rcParams["mathtext.fontset"] = "stix"
row_centers = [90, 231, 373]
row_x = [52, 52, 44]
row_size = [18, 18, 17]
for lab, cy, cx, fs in zip(row_labels, row_centers, row_x, row_size):
    fig.text(cx / W, 1 - cy / H, lab, ha="center", va="center", fontsize=fs)

fig.savefig("out.png", dpi=100)
